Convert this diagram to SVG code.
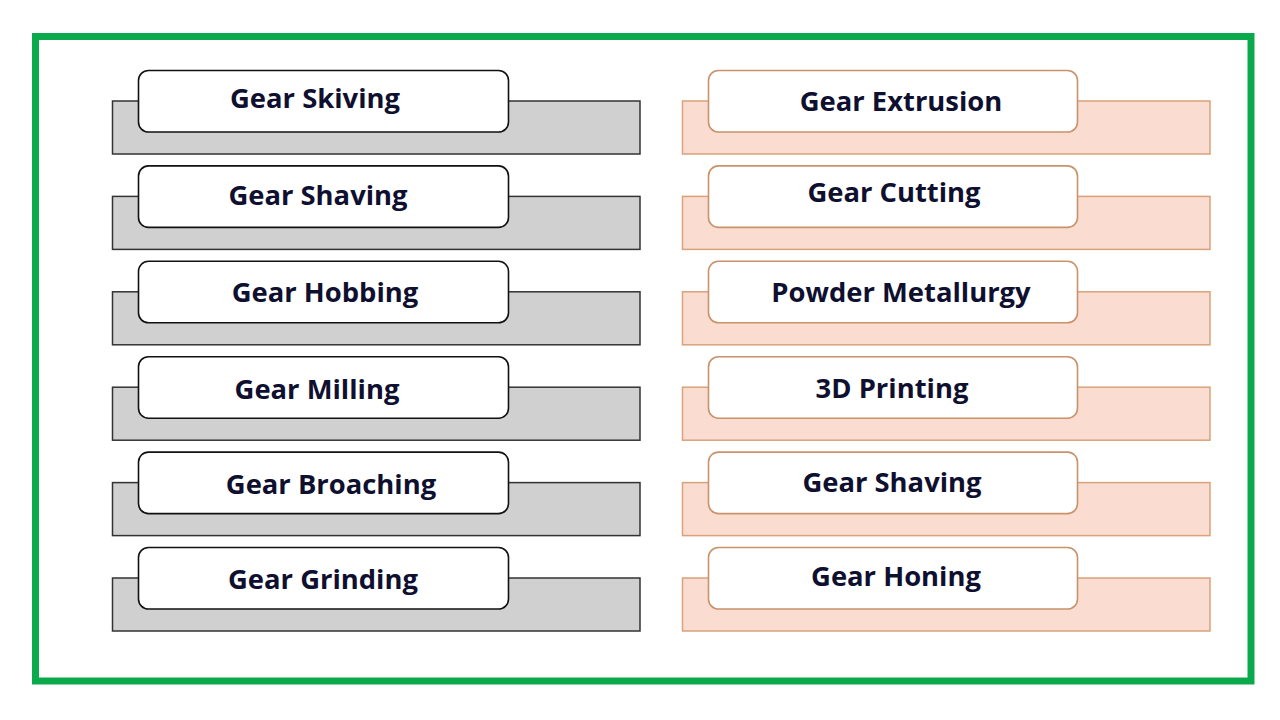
<svg xmlns="http://www.w3.org/2000/svg" width="1280" height="720" viewBox="0 0 1280 720">
<style>
.g{fill:#d0d0d0;stroke:#333;stroke-width:1.5}
.o{fill:#fbdcd1;stroke:#d9a27a;stroke-width:1.5}
.wb{fill:#fff;stroke:#111;stroke-width:1.6}
.wo{fill:#fff;stroke:#c9926a;stroke-width:1.6}
text{font-family:"Open Sans","Noto Sans","DejaVu Sans",sans-serif;font-weight:700;font-size:27.4px;fill:#0f1030;text-anchor:middle}
</style>
<rect width="1280" height="720" fill="#fff"/>
<rect x="35.5" y="36.5" width="1215.5" height="644.5" fill="none" stroke="#0aaa4c" stroke-width="7"/>
<g id="connectors"/>
<g id="l1"><rect class="g" x="112.5" y="101" width="527.5" height="53"/><rect class="wb" x="138.5" y="70.5" width="370" height="61.5" rx="10"/><text x="315" y="108">Gear Skiving</text></g>
<g id="l2"><rect class="g" x="112.5" y="196.4" width="527.5" height="53"/><rect class="wb" x="138.5" y="165.9" width="370" height="61.5" rx="10"/><text x="318" y="205">Gear Shaving</text></g>
<g id="l3"><rect class="g" x="112.5" y="291.8" width="527.5" height="53"/><rect class="wb" x="138.5" y="261.3" width="370" height="61.5" rx="10"/><text x="325" y="302">Gear Hobbing</text></g>
<g id="l4"><rect class="g" x="112.5" y="387.2" width="527.5" height="53"/><rect class="wb" x="138.5" y="356.7" width="370" height="61.5" rx="10"/><text x="317" y="399">Gear Milling</text></g>
<g id="l5"><rect class="g" x="112.5" y="482.6" width="527.5" height="53"/><rect class="wb" x="138.5" y="452.1" width="370" height="61.5" rx="10"/><text x="331" y="494">Gear Broaching</text></g>
<g id="l6"><rect class="g" x="112.5" y="578" width="527.5" height="53"/><rect class="wb" x="138.5" y="547.5" width="370" height="61.5" rx="10"/><text x="323" y="589">Gear Grinding</text></g>
<g id="r1"><rect class="o" x="682.5" y="101" width="527.5" height="53"/><rect class="wo" x="708.5" y="70.5" width="369" height="61.5" rx="10"/><text x="901" y="111">Gear Extrusion</text></g>
<g id="r2"><rect class="o" x="682.5" y="196.4" width="527.5" height="53"/><rect class="wo" x="708.5" y="165.9" width="369" height="61.5" rx="10"/><text x="894" y="202">Gear Cutting</text></g>
<g id="r3"><rect class="o" x="682.5" y="291.8" width="527.5" height="53"/><rect class="wo" x="708.5" y="261.3" width="369" height="61.5" rx="10"/><text x="901" y="302">Powder Metallurgy</text></g>
<g id="r4"><rect class="o" x="682.5" y="387.2" width="527.5" height="53"/><rect class="wo" x="708.5" y="356.7" width="369" height="61.5" rx="10"/><text x="892" y="398">3D Printing</text></g>
<g id="r5"><rect class="o" x="682.5" y="482.6" width="527.5" height="53"/><rect class="wo" x="708.5" y="452.1" width="369" height="61.5" rx="10"/><text x="892" y="492">Gear Shaving</text></g>
<g id="r6"><rect class="o" x="682.5" y="578" width="527.5" height="53"/><rect class="wo" x="708.5" y="547.5" width="369" height="61.5" rx="10"/><text x="896" y="586">Gear Honing</text></g>
</svg>
